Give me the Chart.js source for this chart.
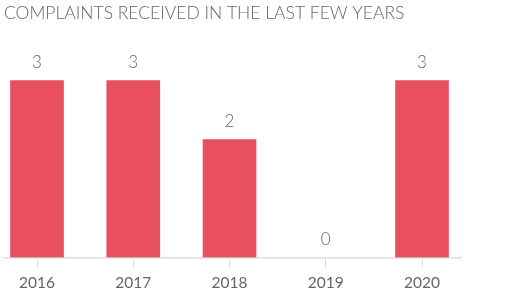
<!DOCTYPE html>
<html>
<head>
<meta charset="utf-8">
<script src="https://cdn.jsdelivr.net/npm/chart.js@4"></script>
<style>
  html, body { margin: 0; padding: 0; background: #fff; }
  #wrap { width: 526px; height: 295px; position: relative; }
</style>
</head>
<body>
<div id="wrap"><canvas id="complaintsChart"></canvas></div>
<script>
const years = ["2016", "2017", "2018", "2019", "2020"];
const complaints = [3, 3, 2, 0, 3];
const chartTitle = "COMPLAINTS RECEIVED IN THE LAST FEW YEARS";

const barColor = "#e8505f";
const textColor = "#666666";
const lineColor = "#dddddd";

// value printed over every bar
const valueLabels = {
    id: "valueLabels",
    afterDatasetsDraw(chart) {
        const ctx = chart.ctx;
        const meta = chart.getDatasetMeta(0);
        ctx.save();
        ctx.font = "300 17px Lato";
        ctx.fillStyle = textColor;
        ctx.textAlign = "center";
        ctx.textBaseline = "middle";
        meta.data.forEach((bar, i) => {
            ctx.fillText(complaints[i], bar.x, bar.y - 18);
        });
        ctx.restore();
    }
};

const createChart = (chartElement) => {
    const ctx = document.querySelector(chartElement).getContext('2d');

    return new Chart(ctx, {
        type: 'bar',
        data: {
            datasets: [{
                data: complaints.map((v, i) => ({ x: i, y: v })),
                // an empty year gets no sliver of colour
                backgroundColor: (c) => (c.raw && c.raw.y === 0 ? 'rgba(0,0,0,0)' : barColor),
                barThickness: 53
            }]
        },
        options: {
            responsive: true,
            maintainAspectRatio: false,
            animation: false,
            layout: {
                padding: { left: 4, right: 65, top: 0, bottom: -3 }
            },
            plugins: {
                legend: { display: false },
                tooltip: { enabled: false },
                title: {
                    display: true,
                    text: chartTitle,
                    align: 'start',
                    color: textColor,
                    font: { family: 'Lato', size: 17.5, weight: '300' },
                    padding: { top: 3, bottom: 27 }
                }
            },
            scales: {
                x: {
                    type: 'linear',
                    min: -0.343,
                    max: 4.405,
                    offset: false,
                    // one tick per year, nothing at the range ends
                    afterBuildTicks: (scale) => {
                        scale.ticks = years.map((y, i) => ({ value: i }));
                    },
                    ticks: {
                        autoSkip: false,
                        color: textColor,
                        font: { family: 'Lato', size: 15.5 },
                        padding: 6,
                        callback: (value) => years[value]
                    },
                    grid: {
                        offset: false,
                        drawOnChartArea: false,
                        tickLength: 10,
                        color: lineColor
                    },
                    border: { color: lineColor, width: 1.5 }
                },
                y: {
                    display: false,
                    min: 0,
                    max: 3.5
                }
            }
        },
        plugins: [valueLabels]
    });
};

createChart('#complaintsChart');
</script>
</body>
</html>
